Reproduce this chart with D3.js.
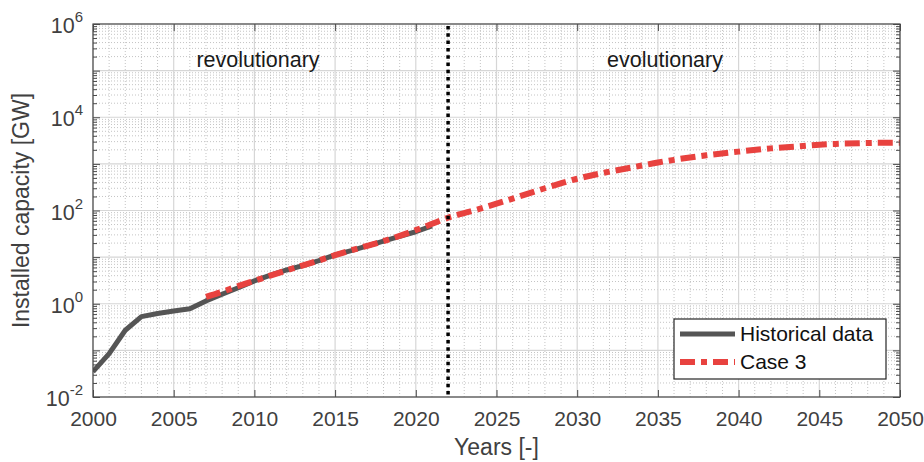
<!DOCTYPE html>
<html>
<head>
<meta charset="utf-8">
<script src="https://cdn.jsdelivr.net/npm/d3@7"></script>
<style>
  body { margin: 0; background: #fff; }
  text { font-family: "Liberation Sans", Arial, Helvetica, sans-serif; }
</style>
</head>
<body>
<svg id="chart" width="924" height="462"></svg>
<script>
// ---- data ----
const histYears = [2000,2001,2002,2003,2004,2005,2006,2007,2008,2009,2010,2011,2012,2013,2014,2015,2016,2017,2018,2019,2020,2021];
const histValues = [0.035,0.085,0.27,0.53,0.62,0.70,0.78,1.15,1.6,2.2,3.1,4.1,5.3,6.6,8.4,11.2,13.8,17.5,22,28,35,47];
const caseYears = [2007,2008,2009,2010,2012,2014,2015,2016,2018,2020,2022,2024,2025,2026,2028,2030,2032,2034,2035,2036,2038,2040,2042,2044,2045,2046,2048,2050];
const caseValues = [1.4,1.8,2.4,3.1,5.2,8.5,11,14,22,38,70,110,140,180,300,480,680,920,1070,1220,1530,1830,2150,2420,2580,2680,2800,2850];
const xTickValues = [2000,2005,2010,2015,2020,2025,2030,2035,2040,2045,2050];
const yTickExponents = [-2,0,2,4,6];
const dividerYear = 2022;
const seriesNames = ["Historical data","Case 3"];
const regionLabels = ["revolutionary","evolutionary"];

// ---- layout ----
const svg = d3.select("#chart");
const L = 93, T = 24, R = 900, B = 397;
const W = R - L, H = B - T;
const x = d3.scaleLinear().domain([2000,2050]).range([L,R]);
const y = d3.scaleLog().domain([1e-2,1e6]).range([B,T]);

svg.append("rect").attr("width",924).attr("height",462).attr("fill","#fff");

const g = svg.append("g");

// minor grid
const minorYears = d3.range(2000,2051).filter(v => v % 5 !== 0);
const minorY = [];
for (let e = -2; e < 6; e++) for (let m = 2; m <= 9; m++) minorY.push(m * Math.pow(10,e));
const majorY = d3.range(-2,7).map(e => Math.pow(10,e));

g.append("g").selectAll("line").data(minorYears).join("line")
  .attr("x1",d=>x(d)).attr("x2",d=>x(d)).attr("y1",T).attr("y2",B)
  .attr("stroke","#c4c4c4").attr("stroke-width",1).attr("stroke-dasharray","1,2");
g.append("g").selectAll("line").data(minorY).join("line")
  .attr("x1",L).attr("x2",R).attr("y1",d=>y(d)).attr("y2",d=>y(d))
  .attr("stroke","#c4c4c4").attr("stroke-width",1).attr("stroke-dasharray","1,2");
// major grid
g.append("g").selectAll("line").data(xTickValues).join("line")
  .attr("x1",d=>x(d)).attr("x2",d=>x(d)).attr("y1",T).attr("y2",B)
  .attr("stroke","#d6d6d6").attr("stroke-width",1.2);
g.append("g").selectAll("line").data(majorY).join("line")
  .attr("x1",L).attr("x2",R).attr("y1",d=>y(d)).attr("y2",d=>y(d))
  .attr("stroke","#d6d6d6").attr("stroke-width",1.2);

// clip
svg.append("clipPath").attr("id","clip").append("rect")
  .attr("x",L).attr("y",T).attr("width",W).attr("height",H);

const histLine = d3.line().x(d=>x(d[0])).y(d=>y(d[1]));
const caseLine = d3.line().x(d=>x(d[0])).y(d=>y(d[1])).curve(d3.curveMonotoneX);
const plot = svg.append("g").attr("clip-path","url(#clip)");

plot.append("path").datum(histYears.map((d,i)=>[d,histValues[i]]))
  .attr("d",histLine).attr("fill","none").attr("stroke","#555555").attr("stroke-width",5)
  .attr("stroke-linejoin","round");
plot.append("path").datum(caseYears.map((d,i)=>[d,caseValues[i]]))
  .attr("d",caseLine).attr("fill","none").attr("stroke","#e8423f").attr("stroke-width",6)
  .attr("stroke-dasharray","15,6,6,6");

// divider
svg.append("line").attr("x1",x(dividerYear)).attr("x2",x(dividerYear))
  .attr("y1",T+2).attr("y2",B)
  .attr("stroke","#000").attr("stroke-width",3.5).attr("stroke-dasharray","3.5,3.8");

// region labels
svg.append("text").attr("x",258).attr("y",67).attr("text-anchor","middle")
  .attr("font-size",21.5).attr("fill","#1a1a1a").text(regionLabels[0]);
svg.append("text").attr("x",665).attr("y",67).attr("text-anchor","middle")
  .attr("font-size",21.5).attr("fill","#1a1a1a").text(regionLabels[1]);

// axes
const axisColor = "#4a4a4a";
function styleAxis(sel){
  sel.select(".domain").remove();
  sel.selectAll(".tick line").attr("stroke",axisColor);
  sel.selectAll("text").attr("fill","#404040").attr("font-size",21)
    .attr("font-family","Liberation Sans, Arial, sans-serif");
}
const xb = svg.append("g").attr("transform",`translate(0,${B})`)
  .call(d3.axisBottom(x).tickValues(xTickValues).tickSize(-7).tickPadding(14).tickFormat(d3.format("d")));
styleAxis(xb);
const xt = svg.append("g").attr("transform",`translate(0,${T})`)
  .call(d3.axisTop(x).tickValues(xTickValues).tickSize(-7).tickFormat(""));
styleAxis(xt);

const yl = svg.append("g").attr("transform",`translate(${L},0)`)
  .call(d3.axisLeft(y).tickValues(majorY).tickSize(-7).tickFormat(""));
styleAxis(yl);
const ylm = svg.append("g").attr("transform",`translate(${L},0)`)
  .call(d3.axisLeft(y).tickValues(minorY).tickSize(-4).tickFormat(""));
styleAxis(ylm);
const yr = svg.append("g").attr("transform",`translate(${R},0)`)
  .call(d3.axisRight(y).tickValues(majorY).tickSize(-7).tickFormat(""));
styleAxis(yr);
const yrm = svg.append("g").attr("transform",`translate(${R},0)`)
  .call(d3.axisRight(y).tickValues(minorY).tickSize(-4).tickFormat(""));
styleAxis(yrm);

// y tick labels with superscripts
const ylab = svg.append("g");
yTickExponents.forEach(e => {
  const t = ylab.append("text").attr("x",L-27).attr("y",y(Math.pow(10,e))+9)
    .attr("text-anchor","end").attr("fill","#404040").attr("font-size",21.5);
  t.append("tspan").text("10");
  t.append("tspan").attr("dy",-11).attr("font-size",15).text(String(e));
});
ylab.selectAll("text").each(function(){
  const bb = this.getBBox();
  const shift = (L - 10) - (bb.x + bb.width);
  d3.select(this).attr("transform",`translate(${shift},0)`);
});

// box
svg.append("rect").attr("x",L).attr("y",T).attr("width",W).attr("height",H)
  .attr("fill","none").attr("stroke",axisColor).attr("stroke-width",1.2);

// axis titles
svg.append("text").attr("x",(L+R)/2).attr("y",455).attr("text-anchor","middle")
  .attr("font-size",23).attr("fill","#404040").text("Years [-]");
svg.append("text").attr("transform",`translate(29,${(T+B)/2}) rotate(-90)`)
  .attr("text-anchor","middle").attr("font-size",23).attr("fill","#404040")
  .text("Installed capacity [GW]");

// legend
const lg = svg.append("g");
lg.append("rect").attr("x",674).attr("y",319).attr("width",212).attr("height",60)
  .attr("fill","#fff").attr("stroke","#262626").attr("stroke-width",1.2);
lg.append("line").attr("x1",680).attr("x2",735).attr("y1",334).attr("y2",334)
  .attr("stroke","#555555").attr("stroke-width",5);
lg.append("line").attr("x1",680).attr("x2",735).attr("y1",362).attr("y2",362)
  .attr("stroke","#e8423f").attr("stroke-width",6).attr("stroke-dasharray","15,6,6,6");
lg.append("text").attr("x",740).attr("y",341).attr("font-size",21).attr("fill","#111").text(seriesNames[0]);
lg.append("text").attr("x",740).attr("y",369).attr("font-size",21).attr("fill","#111").text(seriesNames[1]);
</script>
</body>
</html>
